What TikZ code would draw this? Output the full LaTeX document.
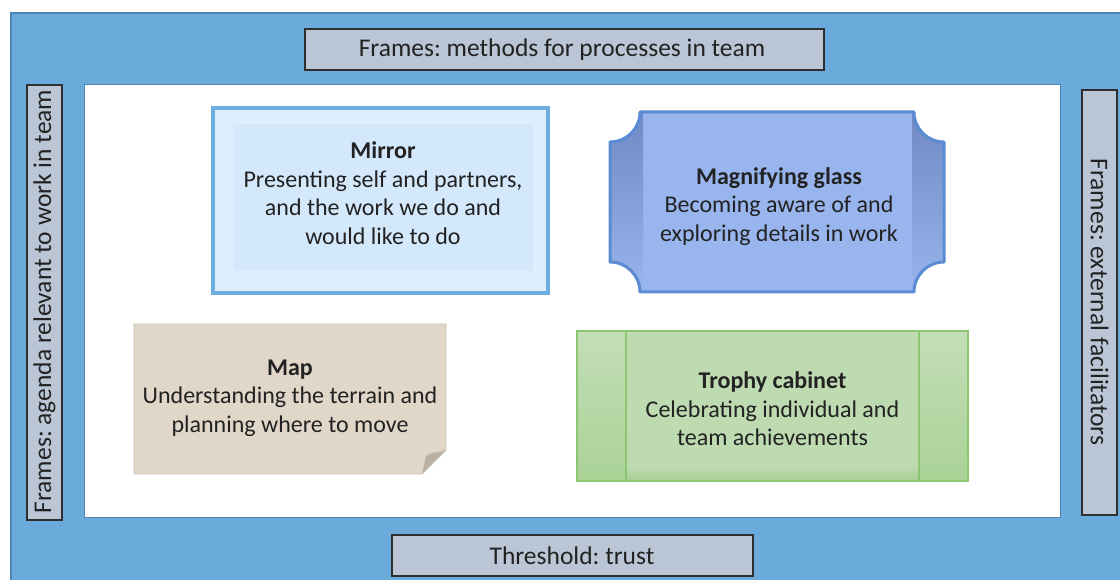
\documentclass[tikz,border=0pt]{standalone}
\usepackage{fontspec}
\setmainfont{Carlito}
\frenchspacing
\usetikzlibrary{calc}
\definecolor{bandblue}{HTML}{6AABDB}
\definecolor{bandedge}{HTML}{4E86B6}
\definecolor{tagfill}{HTML}{BAC6D5}
\definecolor{tagedge}{HTML}{2E2E2E}
\definecolor{inktext}{HTML}{222222}
\definecolor{mirroredge}{HTML}{6DAEE0}
\definecolor{mirrorout}{HTML}{DDEEFC}
\definecolor{mirrorin}{HTML}{D4E8FB}
\definecolor{glassface}{HTML}{98B5EE}
\definecolor{glassdark}{HTML}{6F8AC4}
\definecolor{glassedge}{HTML}{5B8BD2}
\definecolor{mapfill}{HTML}{E0D7C8}
\definecolor{mapedge}{HTML}{CCC4B6}
\definecolor{mapfold}{HTML}{B9B0A1}
\definecolor{trophytop}{HTML}{C3DEB7}
\definecolor{trophybot}{HTML}{AAD296}
\definecolor{trophypanel}{HTML}{BEDAB1}
\definecolor{trophyedge}{HTML}{8BC673}
\tikzset{
  tagbox/.style={draw=tagedge, line width=1.1pt, fill=tagfill},
  tagtext/.style={text=inktext, font=\fontsize{25.5}{28}\selectfont, inner sep=0pt},
  cardtext/.style={text=inktext, align=center, inner sep=0pt,
    font=\fontsize{24}{28.5}\selectfont},
}
\begin{document}
\begin{tikzpicture}[x=1pt,y=-1pt]
\useasboundingbox (0,0) rectangle (1120,580);

% outer band and white working area
\filldraw[fill=bandblue, draw=bandedge, line width=1.4pt] (11,13) rectangle (1130,590);
\filldraw[fill=white, draw=bandedge, line width=1pt] (84,85) rectangle (1060,517);

% frame labels around the area
\draw[tagbox] (305,29) rectangle (824,70);
\node[tagtext] (topframe) at (562,50) {Frames: methods for processes in team};
\draw[tagbox] (27,85) rectangle (62,520);
\node[tagtext, rotate=90] (leftframe) at (44.5,301.5) {Frames: agenda relevant to work in team};
\draw[tagbox] (1082,90) rectangle (1117,515);
\node[tagtext, rotate=-90] (rightframe) at (1099.5,302) {Frames: external facilitators};
\draw[tagbox] (392,535) rectangle (753,576);
\node[tagtext] (threshold) at (572,556) {Threshold: trust};

% mirror card
\fill[mirrorout] (213,108) rectangle (548,293);
\fill[mirrorin] (233,124) rectangle (533,271);
\draw[mirroredge, line width=3.5pt] (213,108) rectangle (548,293);
\node[cardtext] (mirror) at (383,193)
  {\textbf{Mirror}\\Presenting self and partners,\\and the work we do and\\would like to do};

% magnifying glass plaque
\def\plaque{(640,112) -- (914,112) .. controls (914,128.6) and (927.4,142) .. (944,142)
  -- (944,262) .. controls (927.4,262) and (914,275.4) .. (914,292)
  -- (640,292) .. controls (640,275.4) and (626.6,262) .. (610,262)
  -- (610,142) .. controls (626.6,142) and (640,128.6) .. (640,112) -- cycle}
\fill[glassface] \plaque;
\begin{scope}
  \clip \plaque;
  \fill[top color=glassdark, bottom color=glassface] (610,112) rectangle (643,292);
  \fill[top color=glassdark, bottom color=glassface] (912,112) rectangle (944,292);
\end{scope}
\draw[glassedge, line width=3pt, line join=round] \plaque;
\node[cardtext] (glass) at (779,206.5)
  {\textbf{Magnifying glass}\\Becoming aware of and\\exploring details in work};

% map sheet with a folded corner
\filldraw[fill=mapfill, draw=mapedge, line width=0.8pt]
  (134,324) -- (446,324) -- (446,450) -- (422,474) -- (134,474) -- cycle;
\filldraw[fill=mapfold, draw=mapedge, line width=0.6pt]
  (446,450) .. controls (438,453) and (430,452) .. (426,456) -- (422,474) -- cycle;
\node[cardtext] (map) at (290,398)
  {\textbf{Map}\\Understanding the terrain and\\planning where to move};

% trophy cabinet
\fill[top color=trophytop, bottom color=trophybot] (577,331) rectangle (968,481);
\fill[trophypanel] (626,333) rectangle (919,474);
\fill[top color=trophypanel, bottom color=trophybot!85!trophypanel] (626,466) rectangle (919,476);
\draw[trophyedge, line width=1.1pt] (577,331) rectangle (968,481);
\draw[trophyedge, line width=1.1pt] (626,331) -- (626,481) (919,331) -- (919,481);
\node[cardtext] (trophy) at (772.5,409)
  {\textbf{Trophy cabinet}\\Celebrating individual and\\team achievements};
\end{tikzpicture}
\end{document}
